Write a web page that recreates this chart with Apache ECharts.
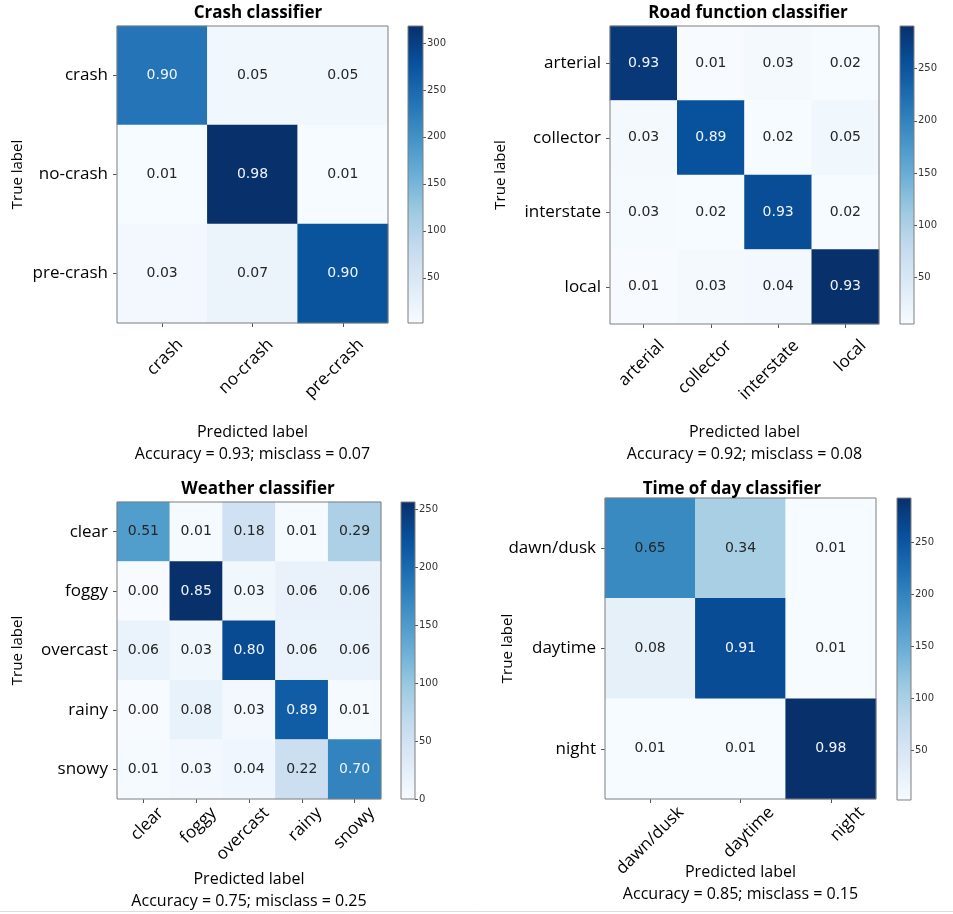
<!DOCTYPE html>
<html>
<head>
<meta charset="utf-8">
<script src="https://cdn.jsdelivr.net/npm/echarts@6/dist/echarts.min.js"></script>
<style>
html,body{margin:0;padding:0;background:#fff;}
#chart{width:953px;height:914px;}
</style>
</head>
<body>
<div id="chart"></div>
<script>
// ---------- data ----------
var crashCats = ['crash', 'no-crash', 'pre-crash'];
var crashNorm = [[0.90, 0.05, 0.05], [0.01, 0.98, 0.01], [0.03, 0.07, 0.90]];
var crashCounts = [[235, 13, 13], [3, 318, 3], [9, 21, 275]];
var crashRange = [2, 318];
var crashTicks = [50, 100, 150, 200, 250, 300];
var crashAcc = 'Accuracy = 0.93; misclass = 0.07';

var roadCats = ['arterial', 'collector', 'interstate', 'local'];
var roadNorm = [[0.93, 0.01, 0.03, 0.02], [0.03, 0.89, 0.02, 0.05], [0.03, 0.02, 0.93, 0.02], [0.01, 0.03, 0.04, 0.93]];
var roadCounts = [[282, 3, 9, 6], [9, 255, 6, 15], [8, 6, 260, 6], [3, 9, 12, 291]];
var roadRange = [5, 291];
var roadTicks = [50, 100, 150, 200, 250];
var roadAcc = 'Accuracy = 0.92; misclass = 0.08';

var weatherCats = ['clear', 'foggy', 'overcast', 'rainy', 'snowy'];
var weatherNorm = [[0.51, 0.01, 0.18, 0.01, 0.29], [0.00, 0.85, 0.03, 0.06, 0.06], [0.06, 0.03, 0.80, 0.06, 0.06], [0.00, 0.08, 0.03, 0.89, 0.01], [0.01, 0.03, 0.04, 0.22, 0.70]];
var weatherCounts = [[148, 3, 52, 3, 84], [0, 256, 9, 18, 18], [17, 9, 230, 17, 17], [0, 19, 7, 212, 2], [2, 7, 10, 56, 175]];
var weatherRange = [0, 256];
var weatherTicks = [0, 50, 100, 150, 200, 250];
var weatherAcc = 'Accuracy = 0.75; misclass = 0.25';

var timeCats = ['dawn/dusk', 'daytime', 'night'];
var timeNorm = [[0.65, 0.34, 0.01], [0.08, 0.91, 0.01], [0.01, 0.01, 0.98]];
var timeCounts = [[193, 101, 3], [28, 262, 3], [3, 3, 293]];
var timeRange = [2, 293];
var timeTicks = [50, 100, 150, 200, 250];
var timeAcc = 'Accuracy = 0.85; misclass = 0.15';

var titles = ['Crash classifier', 'Road function classifier', 'Weather classifier', 'Time of day classifier'];

// Matplotlib "Blues" colormap
var blues = ['#f7fbff', '#deebf7', '#c6dbef', '#9ecae1', '#6baed6', '#4292c6', '#2171b5', '#08519c', '#08306b'];

// ---------- layout ----------
var panels = [
  {cats: crashCats, norm: crashNorm, counts: crashCounts, range: crashRange, ticks: crashTicks, acc: crashAcc,
   grid: {left: 117, top: 26, width: 271, height: 297}, cb: {left: 408, top: 26, width: 15, height: 297},
   title: {x: 253, y: 0}, xGap: 98, yGap: 92, lm: 1, lp: 17},
  {cats: roadCats, norm: roadNorm, counts: roadCounts, range: roadRange, ticks: roadTicks, acc: roadAcc,
   grid: {left: 610, top: 26, width: 269, height: 298}, cb: {left: 900, top: 26, width: 14, height: 298},
   title: {x: 743, y: 0}, xGap: 97, yGap: 102, lm: 1, lp: 17},
  {cats: weatherCats, norm: weatherNorm, counts: weatherCounts, range: weatherRange, ticks: weatherTicks, acc: weatherAcc,
   grid: {left: 117, top: 502, width: 264, height: 297}, cb: {left: 401, top: 502, width: 14, height: 297},
   title: {x: 253, y: 476}, xGap: 69, yGap: 92, lm: -6, lp: 16},
  {cats: timeCats, norm: timeNorm, counts: timeCounts, range: timeRange, ticks: timeTicks, acc: timeAcc,
   grid: {left: 605, top: 498, width: 271, height: 301}, cb: {left: 897, top: 498, width: 14, height: 302},
   title: {x: 727, y: 476}, xGap: 62, yGap: 90, lm: -20, lp: 35}
];

var LABEL_FONT = '"Open Sans", sans-serif';
var option = {
  backgroundColor: '#ffffff',
  animation: false,
  title: [], grid: [], xAxis: [], yAxis: [], series: [], visualMap: [],
  graphic: [{type: 'line', shape: {x1: 0, y1: 911.5, x2: 953, y2: 911.5}, style: {stroke: '#dddddd', lineWidth: 1}, silent: true}]
};

var gridBase = {show: true, z: 5, borderColor: '#7f7f7f', borderWidth: 1, backgroundColor: 'transparent', containLabel: false, outerBoundsMode: 'none'};

panels.forEach(function (p, i) {
  var gi = option.grid.length;
  option.title.push({
    text: titles[i], left: p.title.x, top: p.title.y, textAlign: 'center',
    textStyle: {fontFamily: LABEL_FONT, fontWeight: 'bold', fontSize: 17, color: '#000'}
  });
  option.grid.push(Object.assign({}, gridBase, p.grid));
  option.grid.push(Object.assign({}, gridBase, p.cb));

  // heatmap axes
  option.xAxis.push({
    type: 'category', gridIndex: gi, data: p.cats, position: 'bottom',
    axisLine: {show: false}, splitLine: {show: false}, splitArea: {show: false},
    axisTick: {show: true, alignWithLabel: true, length: 4, lineStyle: {color: '#555'}},
    axisLabel: {rotate: 45, fontSize: 17, fontFamily: LABEL_FONT, color: '#000', margin: p.lm,
                verticalAlign: 'top', padding: [p.lp, 0, 0, 0], interval: 0},
    name: 'Predicted label\n' + p.acc, nameLocation: 'middle', nameGap: p.xGap, nameMoveOverlap: false,
    nameTextStyle: {fontFamily: LABEL_FONT, fontSize: 16, color: '#000', lineHeight: 22, verticalAlign: 'top'}
  });
  option.yAxis.push({
    type: 'category', gridIndex: gi, data: p.cats, inverse: true,
    axisLine: {show: false}, splitLine: {show: false}, splitArea: {show: false},
    axisTick: {show: true, alignWithLabel: true, length: 4, lineStyle: {color: '#555'}},
    axisLabel: {fontSize: 17, fontFamily: LABEL_FONT, color: '#000', margin: 9, interval: 0},
    name: 'True label', nameLocation: 'middle', nameGap: p.yGap, nameRotate: 90, nameMoveOverlap: false,
    nameTextStyle: {fontFamily: LABEL_FONT, fontSize: 15, color: '#000'}
  });

  var data = [];
  for (var r = 0; r < p.cats.length; r++) {
    for (var c = 0; c < p.cats.length; c++) {
      var nv = p.norm[r][c];
      data.push({
        value: [c, r, p.counts[r][c], nv],
        label: {color: nv >= 0.7 ? '#f0f4fa' : '#262626'}
      });
    }
  }
  var sIdx = option.series.length;
  option.series.push({
    type: 'heatmap', xAxisIndex: option.xAxis.length - 1, yAxisIndex: option.yAxis.length - 1,
    data: data, itemStyle: {borderWidth: 0},
    label: {
      show: true, fontFamily: '"DejaVu Sans", sans-serif', fontSize: 14,
      formatter: function (prm) { return Number(prm.value[3]).toFixed(2); }
    },
    emphasis: {disabled: true}
  });
  option.visualMap.push({
    show: false, type: 'continuous', seriesIndex: sIdx, dimension: 2,
    min: p.range[0], max: p.range[1], inRange: {color: blues}
  });

  // colorbar
  option.xAxis.push({
    type: 'category', gridIndex: gi + 1, data: ['cb'], show: false
  });
  option.yAxis.push({
    type: 'value', gridIndex: gi + 1, min: p.range[0], max: p.range[1], position: 'right',
    axisLine: {show: false}, splitLine: {show: false},
    axisTick: {show: true, length: 3, lineStyle: {color: '#555'}, customValues: p.ticks},
    axisLabel: {fontSize: 10, fontFamily: '"DejaVu Sans", sans-serif', color: '#333', margin: 4, customValues: p.ticks}
  });
  var xa = option.xAxis.length - 1, ya = option.yAxis.length - 1;
  option.series.push({
    type: 'bar', xAxisIndex: xa, yAxisIndex: ya, stack: 'cb' + i, barWidth: '100%', silent: true,
    data: [p.range[0]], itemStyle: {color: 'rgba(0,0,0,0)'}
  });
  option.series.push({
    type: 'bar', xAxisIndex: xa, yAxisIndex: ya, stack: 'cb' + i, barWidth: '100%', silent: true,
    data: [p.range[1] - p.range[0]],
    itemStyle: {
      color: {
        type: 'linear', x: 0, y: 1, x2: 0, y2: 0,
        colorStops: blues.map(function (col, k) { return {offset: k / (blues.length - 1), color: col}; })
      }
    }
  });
});

var chart = echarts.init(document.getElementById('chart'), null, {renderer: 'canvas'});
chart.setOption(option);
</script>
</body>
</html>
